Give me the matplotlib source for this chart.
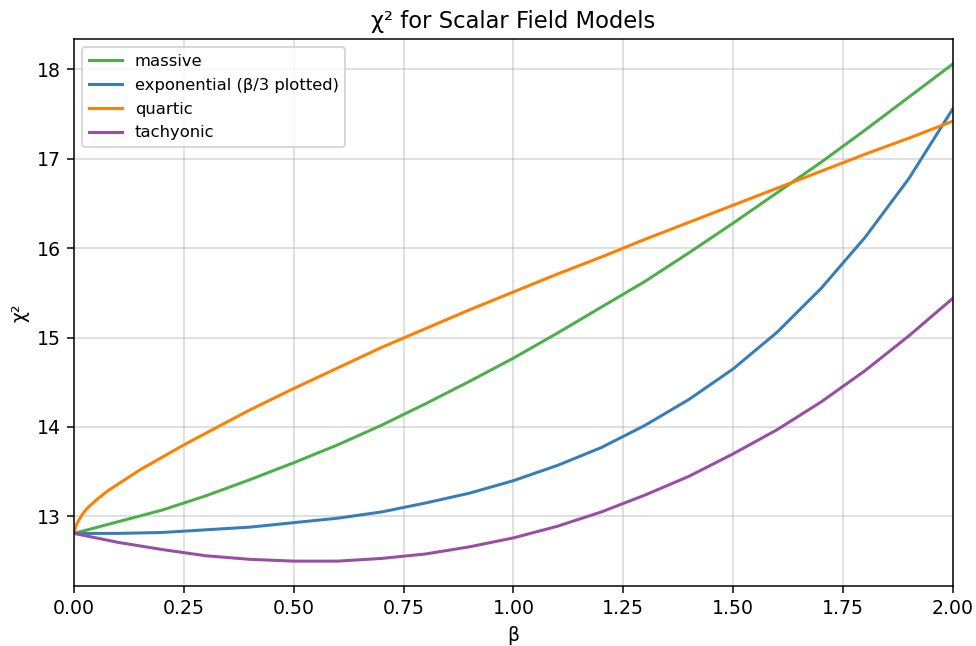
import numpy as np
import matplotlib
matplotlib.use("Agg")
import matplotlib.pyplot as plt

beta = [0.0, 0.1, 0.2, 0.3, 0.4, 0.5, 0.6, 0.7, 0.8, 0.9, 1.0,
        1.1, 1.2, 1.3, 1.4, 1.5, 1.6, 1.7, 1.8, 1.9, 2.0]
massive = [12.81, 12.94, 13.07, 13.23, 13.41, 13.60, 13.80, 14.02, 14.26, 14.51, 14.77,
           15.05, 15.34, 15.63, 15.95, 16.28, 16.62, 16.96, 17.32, 17.69, 18.06]
exponential = [12.81, 12.81, 12.82, 12.85, 12.88, 12.93, 12.98, 13.05, 13.15, 13.26, 13.40,
               13.57, 13.77, 14.02, 14.31, 14.65, 15.06, 15.55, 16.12, 16.78, 17.56]
tachyonic = [12.81, 12.71, 12.63, 12.56, 12.52, 12.50, 12.50, 12.53, 12.58, 12.66, 12.76,
             12.89, 13.05, 13.24, 13.45, 13.70, 13.97, 14.28, 14.63, 15.02, 15.44]
beta_q = [0.0, 0.005, 0.01, 0.02, 0.03, 0.05, 0.075, 0.1, 0.15, 0.2, 0.25, 0.3, 0.4, 0.5, 0.6, 0.7,
          0.8, 0.9, 1.0, 1.1, 1.2, 1.3, 1.4, 1.5, 1.6, 1.7, 1.8, 1.9, 2.0]
quartic = [12.81, 12.90, 12.95, 13.03, 13.09, 13.18, 13.28, 13.36, 13.52, 13.66, 13.80, 13.93, 14.19,
           14.43, 14.66, 14.89, 15.10, 15.31, 15.51, 15.71, 15.90, 16.10, 16.29, 16.48,
           16.67, 16.86, 17.05, 17.23, 17.42]

DPI = 136
fig = plt.figure(figsize=(976 / DPI, 646 / DPI), dpi=DPI)
ax = fig.add_axes([0.0758, 0.0929, 0.9006, 0.8467])

ax.plot(beta, massive, color='#4daf4a', lw=1.6, label='massive')
ax.plot(beta, exponential, color='#377eb8', lw=1.6, label='exponential (β/3 plotted)')
ax.plot(beta_q, quartic, color='#ff7f00', lw=1.6, label='quartic')
ax.plot(beta, tachyonic, color='#984ea3', lw=1.6, label='tachyonic')

ax.set_xlim(0, 2)
ax.set_xticks(np.arange(0, 2.01, 0.25))
ax.grid(True, color='#b0b0b0', alpha=0.5, lw=0.8)
ax.set_xlabel('β')
ax.set_ylabel('χ²')
ax.set_title('χ² for Scalar Field Models')
ax.legend(loc='upper left', fontsize=8.7, labelspacing=0.54)

fig.savefig('out.png', dpi=DPI)
